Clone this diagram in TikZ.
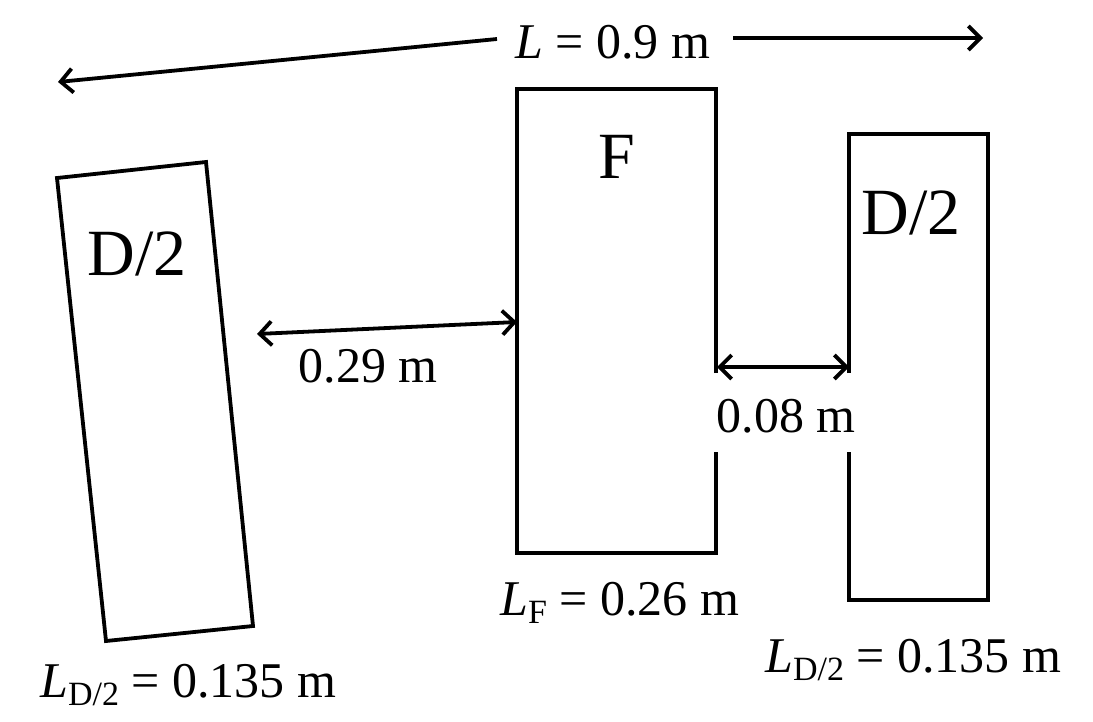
\documentclass[tikz,border=0pt]{standalone}
\usepackage{fontspec}
\setmainfont{Liberation Serif}
\usetikzlibrary{arrows.meta}
\newcommand{\lblfont}{\fontsize{50}{54}\selectfont}
\newcommand{\bigfont}{\fontsize{66}{70}\selectfont}
\newcommand{\subs}[1]{\raisebox{-8pt}{\fontsize{34}{36}\selectfont #1}}
\tikzset{
  shape line/.style={line width=3.8pt, line join=miter},
  barb/.style={Straight Barb[length=12pt,width=24pt,line width=3.8pt]},
  dim/.style={line width=3.8pt, -{Straight Barb[length=12pt,width=24pt,line width=3.8pt]}},
  dimboth/.style={line width=3.8pt, {Straight Barb[length=12pt,width=24pt,line width=3.8pt]}-{Straight Barb[length=12pt,width=24pt,line width=3.8pt]}},
  txt/.style={inner sep=0pt, anchor=base west, font=\lblfont},
  bigtxt/.style={inner sep=0pt, anchor=base, font=\bigfont}
}
\begin{document}
\begin{tikzpicture}[x=1pt,y=-1pt]
\useasboundingbox (0,0) rectangle (1093,721);
% left tilted rectangle
\coordinate (ltl) at (57,178);
\coordinate (ltr) at (206,162);
\coordinate (lbr) at (253,626);
\coordinate (lbl) at (106,641);
\draw[shape line] (ltl) -- (ltr) -- (lbr) -- (lbl) -- cycle;
% F rectangle with gap on right side
\coordinate (fgt) at (716,373);
\coordinate (fgb) at (716,452);
\draw[shape line] (fgt) -- (716,89) -- (517,89) -- (517,553) -- (716,553) -- (fgb);
% right D/2 rectangle with gap on left side
\coordinate (rgt) at (849,373);
\coordinate (rgb) at (849,452);
\draw[shape line] (rgt) -- (849,134) -- (988,134) -- (988,600) -- (849,600) -- (rgb);
% top dimension
\node[txt] (Ltot) at (515,58) {\textit{L} = 0.9 m};
\coordinate (tl0) at (497,39);
\coordinate (tl1) at (58,82);
\coordinate (tr0) at (733,38);
\coordinate (tr1) at (983,38);
\draw[dim] (tl0) -- (tl1);
\draw[dim] (tr0) -- (tr1);
% 0.29 m
\coordinate (a0) at (257,334);
\coordinate (a1) at (517,322);
\draw[dimboth] (a0) -- (a1);
\node[txt, anchor=base] (d029) at (368,382) {0.29 m};
% 0.08 m
\coordinate (b0) at (717,367);
\coordinate (b1) at (849,367);
\draw[dimboth] (b0) -- (b1);
\node[txt, anchor=base] (d008) at (786,432) {0.08 m};
% labels in boxes
\node[bigtxt] (lblL) at (137,275) {D/2};
\node[bigtxt] (lblF) at (617,178) {F};
\node[bigtxt] (lblR) at (911,234) {D/2};
% length labels
\node[txt] (LF) at (500,615) {\textit{L}\subs{F} = 0.26 m};
\node[txt] (LDl) at (40,697) {\textit{L}\subs{D/2} = 0.135 m};
\node[txt] (LDr) at (765,672) {\textit{L}\subs{D/2} = 0.135 m};
\end{tikzpicture}
\end{document}
